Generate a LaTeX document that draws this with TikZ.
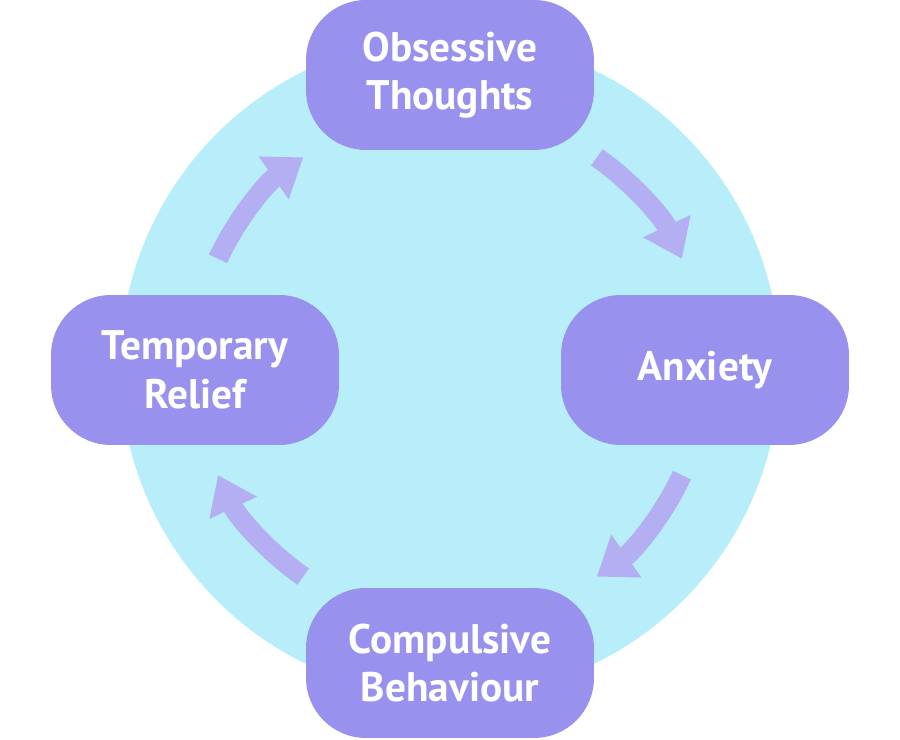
\documentclass[tikz,border=0pt]{standalone}
\usepackage{fontspec}
\setmainfont{PT Sans}
\usetikzlibrary{arrows.meta}
\definecolor{ringblue}{HTML}{B8EEFA}
\definecolor{boxviolet}{HTML}{9891EE}
\definecolor{arrowviolet}{HTML}{B4AEF3}

\begin{document}
\begin{tikzpicture}[x=0.02cm,y=0.02cm,
    stage/.style={fill=boxviolet,rounded corners=1.2cm,minimum width=5.76cm,
      minimum height=3cm,text=white,align=center,
      font=\bfseries\fontsize{23.5}{27.5}\selectfont},
    cyclearrow/.style={draw=arrowviolet,line width=0.4cm,
      -{Triangle[width=1cm,length=0.72cm]}}]
  \useasboundingbox (0,0) rectangle (900,740);
  \coordinate (hub) at (450,373);
  \fill[ringblue] (hub) circle[radius=6.6cm];
  % the four stages
  \node[stage] (obsess) at (450,665) {Obsessive\\Thoughts};
  \node[stage] (anxiety) at (705,370) {Anxiety};
  \node[stage] (compuls) at (450,77) {Compulsive\\Behaviour};
  \node[stage] (relief) at (195,370) {Temporary\\Relief};
  % arrows round the cycle
  \draw[cyclearrow] ([shift={(55:5.12cm)}]hub) arc[start angle=55,end angle=25,radius=5.12cm];
  \draw[cyclearrow] ([shift={(-25:5.12cm)}]hub) arc[start angle=-25,end angle=-55,radius=5.12cm];
  \draw[cyclearrow] ([shift={(235:5.12cm)}]hub) arc[start angle=235,end angle=205,radius=5.12cm];
  \draw[cyclearrow] ([shift={(155:5.12cm)}]hub) arc[start angle=155,end angle=125,radius=5.12cm];
\end{tikzpicture}
\end{document}
